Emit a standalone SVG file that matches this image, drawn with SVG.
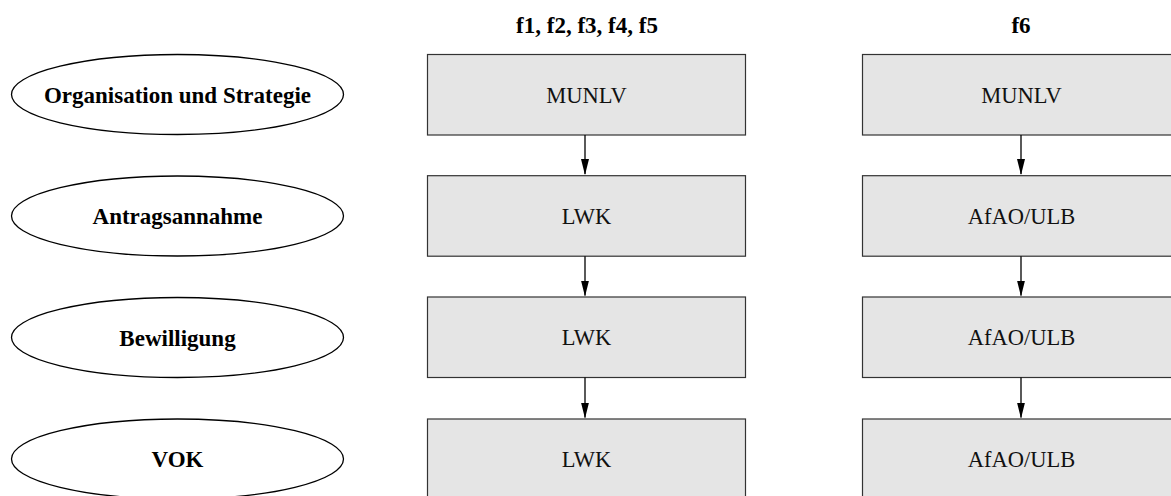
<svg xmlns="http://www.w3.org/2000/svg" width="1171" height="496" viewBox="0 0 1171 496">
<style>
.ell{fill:#fff;stroke:#000;stroke-width:1.3}
.box{fill:#e5e5e5;stroke:#333;stroke-width:1.2}
.lb{font-family:"Liberation Serif",serif;font-size:23px;font-weight:bold;text-anchor:middle;fill:#000}
.ln{font-family:"Liberation Serif",serif;font-size:22.5px;text-anchor:middle;fill:#111}
.con{stroke:#000;stroke-width:1.3;fill:none}
</style>
<defs>
<marker id="ah" markerWidth="8" markerHeight="16" refX="4" refY="15" orient="0" markerUnits="userSpaceOnUse" viewBox="0 0 8 16">
<path d="M0,0 L8,0 L4,16 Z" fill="#000"/>
</marker>
</defs>
<g id="headers">
<text class="lb" x="587" y="33">f1, f2, f3, f4, f5</text>
<text class="lb" x="1021" y="33">f6</text>
</g>
<g id="e1"><ellipse class="ell" cx="177.5" cy="94.5" rx="166" ry="40"/><text class="lb" x="177.5" y="103">Organisation und Strategie</text></g>
<g id="e2"><ellipse class="ell" cx="177.5" cy="216" rx="166" ry="40"/><text class="lb" x="177.5" y="224">Antragsannahme</text></g>
<g id="e3"><ellipse class="ell" cx="177.5" cy="337.5" rx="166" ry="40"/><text class="lb" x="177.5" y="345.5">Bewilligung</text></g>
<g id="e4"><ellipse class="ell" cx="177.5" cy="459" rx="166" ry="40"/><text class="lb" x="177.5" y="467">VOK</text></g>
<g id="a1"><rect class="box" x="427.5" y="54.5" width="318" height="80.5"/><text class="ln" x="586.5" y="102.5">MUNLV</text></g>
<g id="a2"><rect class="box" x="427.5" y="175.7" width="318" height="80.5"/><text class="ln" x="586.5" y="223.7">LWK</text></g>
<g id="a3"><rect class="box" x="427.5" y="297" width="318" height="80.5"/><text class="ln" x="586.5" y="345">LWK</text></g>
<g id="a4"><rect class="box" x="427.5" y="419" width="318" height="80.5"/><text class="ln" x="586.5" y="467">LWK</text></g>
<g id="b1"><rect class="box" x="862.5" y="54.5" width="318" height="80.5"/><text class="ln" x="1021.5" y="102.5">MUNLV</text></g>
<g id="b2"><rect class="box" x="862.5" y="175.7" width="318" height="80.5"/><text class="ln" x="1021.5" y="223.7">AfAO/ULB</text></g>
<g id="b3"><rect class="box" x="862.5" y="297" width="318" height="80.5"/><text class="ln" x="1021.5" y="345">AfAO/ULB</text></g>
<g id="b4"><rect class="box" x="862.5" y="419" width="318" height="80.5"/><text class="ln" x="1021.5" y="467">AfAO/ULB</text></g>
<g id="connectors">
<path class="con" d="M585,135 V174" marker-end="url(#ah)"/>
<path class="con" d="M585,256.2 V295.5" marker-end="url(#ah)"/>
<path class="con" d="M585,377.5 V417.5" marker-end="url(#ah)"/>
<path class="con" d="M1021,135 V174" marker-end="url(#ah)"/>
<path class="con" d="M1021,256.2 V295.5" marker-end="url(#ah)"/>
<path class="con" d="M1021,377.5 V417.5" marker-end="url(#ah)"/>
</g>
</svg>
